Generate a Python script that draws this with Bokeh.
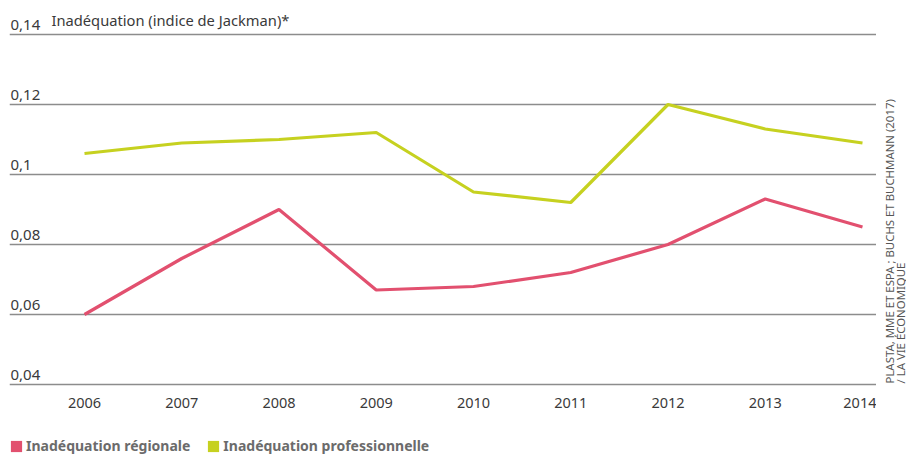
from bokeh.plotting import figure
from bokeh.models import Range1d, FixedTicker, Legend, LegendItem, ColumnDataSource
from bokeh.layouts import column, row
from bokeh.core.properties import value
from bokeh.embed import file_html
from bokeh.resources import INLINE
import math

years = [2006, 2007, 2008, 2009, 2010, 2011, 2012, 2013, 2014]
regionale = [0.060, 0.076, 0.090, 0.067, 0.068, 0.072, 0.080, 0.093, 0.085]
professionnelle = [0.106, 0.109, 0.110, 0.112, 0.095, 0.092, 0.120, 0.113, 0.109]
y_ticks = [0.04, 0.06, 0.08, 0.10, 0.12, 0.14]
y_tick_labels = ["0,04", "0,06", "0,08", "0,1", "0,12", "0,14"]
y_title = "Inadéquation (indice de Jackman)*"
series_names = ["Inadéquation régionale", "Inadéquation professionnelle"]
source_lines = ["PLASTA, MME ET ESPA ; BUCHS ET BUCHMANN (2017)", "/ LA VIE ÉCONOMIQUE"]

PINK = "#e2506f"
GREEN = "#c6d120"
TXT = "#3a3a3a"
GRID = "#8c8c8c"
FONT = "Noto Sans"

XMIN, XMAX = 2005.2288, 2014.144
YMIN, YMAX = 0.039429, 0.147429


def clean(fig):
    fig.outline_line_color = None
    fig.background_fill_color = "white"
    fig.border_fill_color = "white"


# ---- main chart ----
p = figure(width=876, height=430, output_backend="svg", toolbar_location=None,
           x_range=Range1d(XMIN, XMAX), y_range=Range1d(YMIN, YMAX),
           min_border_left=9, min_border_right=0, min_border_top=8, min_border_bottom=44,
           y_axis_location=None)
clean(p)
p.xgrid.visible = False
p.ygrid.ticker = FixedTicker(ticks=y_ticks)
p.ygrid.grid_line_color = GRID
p.ygrid.grid_line_width = 1.3

ax = p.xaxis[0]
ax.ticker = FixedTicker(ticks=years)
ax.axis_line_color = None
ax.major_tick_line_color = None
ax.minor_tick_line_color = None
ax.major_label_text_font = FONT
ax.major_label_text_font_size = "14.5px"
ax.major_label_text_color = TXT
ax.major_label_standoff = 5

p.line(years, regionale, line_color=PINK, line_width=3.2)
p.line(years, professionnelle, line_color=GREEN, line_width=3.2)

src = ColumnDataSource(dict(x=[XMIN] * len(y_ticks), y=y_ticks, t=y_tick_labels))
p.text(x="x", y="y", text="t", source=src, x_offset=1, y_offset=-5,
       text_font=value(FONT), text_font_size="15px", text_color=TXT,
       text_baseline="bottom", text_align="left")
p.text(x=[XMIN], y=[y_ticks[-1]], text=[y_title], x_offset=42, y_offset=-5,
       text_font=value(FONT), text_font_size="14.7px", text_color=TXT,
       text_baseline="bottom", text_align="left")

# ---- vertical source strip ----
ps = figure(width=30, height=430, output_backend="svg", toolbar_location=None,
            x_range=Range1d(0, 30), y_range=Range1d(YMIN, YMAX),
            min_border_left=0, min_border_right=0, min_border_top=8, min_border_bottom=44,
            x_axis_location=None, y_axis_location=None)
clean(ps)
ps.grid.visible = False
ps.text(x=[0, 0], y=[y_ticks[0], y_ticks[0]], text=source_lines,
        x_offset=[13, 23.5], y_offset=-1, angle=math.pi / 2,
        text_font=value(FONT), text_font_size="11.4px", text_color="#555555",
        text_baseline="middle", text_align="left")

# ---- legend strip ----
pl = figure(width=906, height=25, output_backend="svg", toolbar_location=None,
            x_range=Range1d(XMIN, XMAX), y_range=Range1d(YMIN, YMAX),
            min_border_left=0, min_border_right=0, min_border_top=0, min_border_bottom=0,
            x_axis_location=None, y_axis_location=None)
clean(pl)
pl.grid.visible = False
b1 = pl.vbar(x=years, top=regionale, bottom=regionale, width=0, fill_color=PINK, line_color=None)
b2 = pl.vbar(x=years, top=professionnelle, bottom=professionnelle, width=0, fill_color=GREEN, line_color=None)
legend = Legend(items=[LegendItem(label=series_names[0], renderers=[b1]),
                       LegendItem(label=series_names[1], renderers=[b2])],
                orientation="horizontal", location=(9, 0),
                label_text_font=FONT, label_text_font_size="14px",
                label_text_font_style="bold", label_text_color="#6b6b6b",
                glyph_width=14, glyph_height=14, label_standoff=3, spacing=16,
                padding=0, margin=0, border_line_color=None,
                background_fill_alpha=0)
pl.add_layout(legend)

layout = column(row(p, ps, spacing=0), pl, spacing=0)
open("out.html", "w").write(file_html(layout, INLINE))
